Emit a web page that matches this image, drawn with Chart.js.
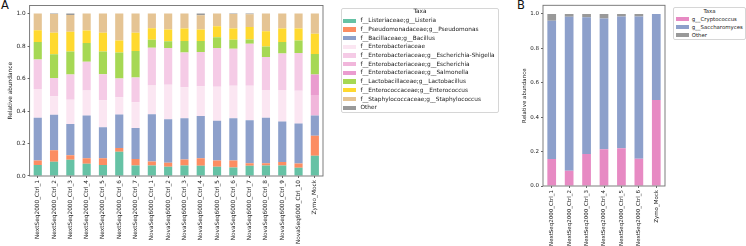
<!DOCTYPE html>
<html>
<head>
<meta charset="utf-8">
<script src="https://cdn.jsdelivr.net/npm/chart.js@4/dist/chart.umd.min.js"></script>
<style>
  body { margin: 0; background: #fff; width: 746px; height: 246px; overflow: hidden; position: relative; font-family: "DejaVu Sans", sans-serif; }
  canvas { position: absolute; }
  .tag { position: absolute; font-size: 11.5px; line-height: 1; color: #111; }
  .legend { position: absolute; border: 1px solid #d6d6d6; border-radius: 2px; background: #fff; color: #222; }
  .legend div { position: absolute; white-space: nowrap; }
  .legend .title { left: 0; right: 0; text-align: center; }
</style>
</head>
<body>
<div class="tag" style="left:1px;top:0px">A</div>
<div class="tag" style="left:517px;top:0px">B</div>
<canvas id="chartA" width="330" height="246" style="left:0;top:0"></canvas>
<canvas id="chartB" width="175" height="246" style="left:495px;top:0"></canvas>
<div class="legend" id="legendA" style="left:341px;top:8px;width:156px;height:103px;font-size:5.8px"></div>
<div class="legend" id="legendB" style="left:673px;top:7px;width:71px;height:31px;font-size:5.4px"></div>

<script>
"use strict";

// ---- Panel A: bacteria ----
const samplesA = [
  "NextSeq2000_Ctrl_1", "NextSeq2000_Ctrl_2", "NextSeq2000_Ctrl_3", "NextSeq2000_Ctrl_4",
  "NextSeq2000_Ctrl_5", "NextSeq2000_Ctrl_6", "NextSeq2000_Ctrl_7",
  "NovaSeq6000_Ctrl_1", "NovaSeq6000_Ctrl_2", "NovaSeq6000_Ctrl_3", "NovaSeq6000_Ctrl_4",
  "NovaSeq6000_Ctrl_5", "NovaSeq6000_Ctrl_6", "NovaSeq6000_Ctrl_7", "NovaSeq6000_Ctrl_8",
  "NovaSeq6000_Ctrl_9", "NovaSeq6000_Ctrl_10", "Zymo_Mock"
];
const taxaA = [
  "f__Listeriaceae;g__Listeria",
  "f__Pseudomonadaceae;g__Pseudomonas",
  "f__Bacillaceae;g__Bacillus",
  "f__Enterobacteriaceae",
  "f__Enterobacteriaceae;g__Escherichia-Shigella",
  "f__Enterobacteriaceae;g__Escherichia",
  "f__Enterobacteriaceae;g__Salmonella",
  "f__Lactobacillaceae;g__Lactobacillus",
  "f__Enterococcaceae;g__Enterococcus",
  "f__Staphylococcaceae;g__Staphylococcus",
  "Other"
];
const listeria      = [0.067, 0.088, 0.100, 0.075, 0.067, 0.149, 0.065, 0.065, 0.057, 0.065, 0.063, 0.057, 0.053, 0.063, 0.065, 0.065, 0.051, 0.124];
const pseudomonas   = [0.029, 0.071, 0.028, 0.035, 0.043, 0.024, 0.039, 0.025, 0.024, 0.037, 0.047, 0.039, 0.043, 0.016, 0.014, 0.021, 0.026, 0.124];
const bacillus      = [0.262, 0.218, 0.192, 0.263, 0.190, 0.206, 0.191, 0.291, 0.269, 0.254, 0.259, 0.244, 0.260, 0.265, 0.279, 0.250, 0.247, 0.125];
const enterobact    = [0.178, 0.114, 0.150, 0.154, 0.166, 0.106, 0.159, 0.177, 0.212, 0.190, 0.183, 0.210, 0.200, 0.212, 0.172, 0.194, 0.201, 0];
const eschShigella  = [0.181, 0.112, 0.155, 0.176, 0.161, 0.115, 0.153, 0.232, 0.226, 0.214, 0.212, 0.238, 0.228, 0.259, 0.203, 0.224, 0.233, 0];
const escherichia   = [0, 0, 0, 0, 0, 0, 0, 0, 0, 0, 0, 0, 0, 0, 0, 0, 0, 0.126];
const salmonella    = [0, 0, 0, 0, 0, 0, 0, 0, 0, 0, 0, 0, 0, 0, 0, 0, 0, 0.126];
const lactobacillus = [0.108, 0.147, 0.141, 0.116, 0.139, 0.160, 0.163, 0.049, 0.041, 0.071, 0.067, 0.067, 0.055, 0.026, 0.065, 0.071, 0.077, 0.127];
const enterococcus  = [0.073, 0.132, 0.122, 0.077, 0.116, 0.075, 0.112, 0.071, 0.073, 0.077, 0.071, 0.067, 0.069, 0.077, 0.094, 0.083, 0.073, 0.124];
const staphylococc  = [0.102, 0.115, 0.104, 0.104, 0.118, 0.165, 0.118, 0.090, 0.098, 0.092, 0.088, 0.078, 0.090, 0.078, 0.108, 0.092, 0.092, 0.124];
const otherA        = [0, 0.003, 0.008, 0, 0, 0, 0, 0, 0, 0, 0.010, 0, 0.002, 0.004, 0, 0, 0, 0];

// ---- Panel B: fungi ----
const samplesB = [
  "NextSeq2000_Ctrl_1", "NextSeq2000_Ctrl_2", "NextSeq2000_Ctrl_3", "NextSeq2000_Ctrl_4",
  "NextSeq2000_Ctrl_5", "NextSeq2000_Ctrl_6", "Zymo_Mock"
];
const taxaB = ["g__Cryptococcus", "g__Saccharomyces", "Other"];
const cryptococcus  = [0.157, 0.088, 0.186, 0.213, 0.219, 0.159, 0.499];
const saccharomyces = [0.803, 0.895, 0.795, 0.760, 0.766, 0.826, 0.501];
const otherB        = [0.040, 0.017, 0.019, 0.027, 0.015, 0.015, 0];

const yTicks = [0, 0.2, 0.4, 0.6, 0.8, 1.0];

// colores (Set2 + tonos de rosa para Enterobacteriaceae)
const coloresA = ["#66c2a5", "#fc8d62", "#8da0cb", "#fbe6f2", "#f5cbe6", "#f1b6db", "#ea9ccf",
                  "#a6d854", "#ffd92f", "#e5c494", "#999999"];
const coloresB = ["#e78ac3", "#8da0cb", "#999999"];

const FONT = "'DejaVu Sans', sans-serif";
const TEXT = "#222";

// marco completo alrededor del área (como los spines de matplotlib)
const frame = {
  id: "frame",
  afterDatasetsDraw(chart) {
    const { ctx, chartArea: a } = chart;
    ctx.save();
    ctx.strokeStyle = "#707070";
    ctx.lineWidth = 0.9;
    ctx.strokeRect(a.left, a.top, a.right - a.left, a.bottom - a.top);
    ctx.restore();
  }
};

function makeChart(id, labels, series, colors, cfg) {
  const datasets = series.map((data, i) => ({
    label: cfg.names[i],
    data,
    backgroundColor: colors[i],
    borderWidth: 0,
    barPercentage: 0.5,
    categoryPercentage: 1
  }));
  const font = { family: FONT, size: cfg.font };
  return new Chart(document.getElementById(id), {
    type: "bar",
    data: { labels, datasets },
    options: {
      responsive: false,
      animation: false,
      devicePixelRatio: 1,
      layout: { padding: cfg.padding },
      plugins: { legend: { display: false }, tooltip: { enabled: false } },
      scales: {
        x: {
          stacked: true,
          grid: { drawOnChartArea: false, offset: false, tickLength: 2, color: "#666" },
          border: { display: false },
          ticks: { autoSkip: false, minRotation: 90, maxRotation: 90, padding: 2, color: TEXT, font },
          afterFit(s) { s.height = cfg.xh; }
        },
        y: {
          stacked: true,
          min: 0,
          max: 1.05,
          grid: { drawOnChartArea: false, tickLength: 2, color: "#666" },
          border: { display: false },
          ticks: { padding: 2, color: TEXT, font, callback: v => Number(v).toFixed(1) },
          afterBuildTicks(s) { s.ticks = yTicks.map(v => ({ value: v })); },
          afterFit(s) { s.width = cfg.yw; },
          title: { display: true, text: "Relative abundance", color: TEXT, font, padding: { top: 4, bottom: 4 } }
        }
      }
    },
    plugins: [frame]
  });
}

function buildLegend(el, names, colors, o) {
  const t = document.createElement("div");
  t.className = "title";
  t.textContent = "Taxa";
  t.style.top = o.titleTop + "px";
  t.style.lineHeight = o.lh + "px";
  el.appendChild(t);
  names.forEach((n, i) => {
    const y = o.firstTop + i * o.step;
    const sw = document.createElement("div");
    sw.style.cssText = `left:${o.patchLeft}px;top:${y + (o.lh - o.ph) / 2}px;width:${o.pw}px;height:${o.ph}px;background:${colors[i]}`;
    el.appendChild(sw);
    const tx = document.createElement("div");
    tx.style.cssText = `left:${o.textLeft}px;top:${y}px;line-height:${o.lh}px`;
    tx.textContent = n;
    el.appendChild(tx);
  });
}

makeChart("chartA", samplesA,
  [listeria, pseudomonas, bacillus, enterobact, eschShigella, escherichia, salmonella,
   lactobacillus, enterococcus, staphylococc, otherA],
  coloresA,
  { names: taxaA, font: 5.8, padding: { left: 3, top: 4, right: 7, bottom: 0 }, yw: 26.6, xh: 70 });

makeChart("chartB", samplesB, [cryptococcus, saccharomyces, otherB], coloresB,
  { names: taxaB, font: 5.5, padding: { left: 22.5, top: 3.6, right: 5, bottom: 0 }, yw: 25.5, xh: 60 });

buildLegend(document.getElementById("legendA"), taxaA, coloresA,
  { titleTop: -1.2, firstTop: 8.2, step: 8.7, lh: 7, patchLeft: 1.3, pw: 12.5, ph: 4.3, textLeft: 18.5 });
buildLegend(document.getElementById("legendB"), taxaB, coloresB,
  { titleTop: -0.5, firstTop: 7.5, step: 8, lh: 7, patchLeft: 1.7, pw: 13, ph: 4, textLeft: 17.7 });
</script>
</body>
</html>
